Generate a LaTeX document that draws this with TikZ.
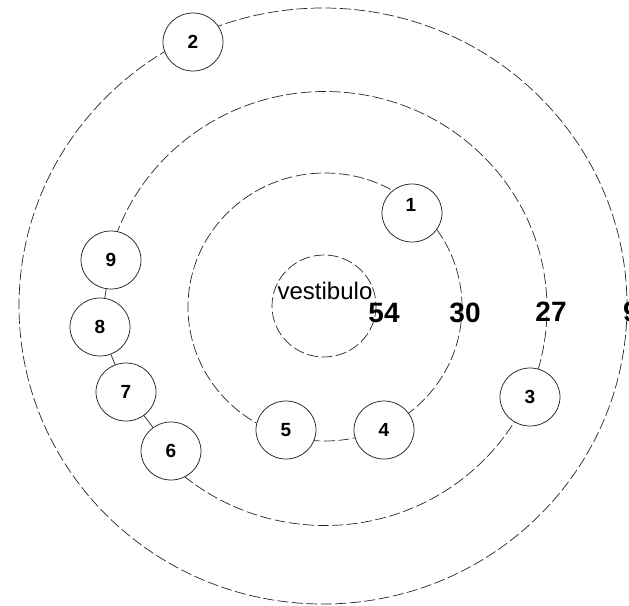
\documentclass[tikz,border=0pt]{standalone}
\usepackage{fontspec}
\setmainfont{Liberation Sans}
\usetikzlibrary{shapes.geometric}
\tikzset{
  ring/.style={draw=black!85, line width=0.7pt, dash pattern=on 11pt off 3.5pt},
  nd/.style={ellipse, draw=black!85, line width=0.75pt, fill=white, inner sep=0pt,
             minimum width=60pt, minimum height=58pt, font=\fontsize{19}{19}\selectfont\bfseries},
  num/.style={inner sep=0pt, font=\fontsize{19}{19}\selectfont\bfseries},
  big/.style={inner sep=0pt, anchor=base, font=\fontsize{28}{28}\selectfont\bfseries},
  link/.style={draw=black!85, line width=0.7pt}
}
\begin{document}
\begin{tikzpicture}[x=1pt,y=-1pt]
\useasboundingbox (0,0) rectangle (629,605);
\clip (0,0) rectangle (629,605);
\fill[white] (0,0) rectangle (629,605);
% ring centres
\coordinate (c0) at (324,306);
\coordinate (c1) at (325,307);
\coordinate (c2) at (325,308.5);
\coordinate (c3) at (323,306);
% rings
\draw[ring] (c0) ellipse [x radius=52, y radius=51];
\draw[ring] (c1) ellipse [x radius=137, y radius=134];
\draw[ring] (c2) ++(137:222 and 217) arc[start angle=137, end angle=-167, x radius=222, y radius=217];
\draw[ring] (c3) ellipse [x radius=304, y radius=298];
% texts
\node[inner sep=0pt, anchor=base, font=\fontsize{24}{24}\selectfont] (vest) at (325,299) {vestibulo};
\node[big] (r54) at (384,322) {54};
\node[big] (r30) at (465,322) {30};
\node[big] (r27) at (551,321) {27};
\node[big, anchor=base west] (r9) at (623,321) {9};
% nodes
\node[nd] (n1) at (412,213) {};
\node[num] (t1) at (411,205) {1};
\node[nd] (n2) at (193,42) {2};
\node[nd] (n3) at (530,397) {3};
\node[nd] (n4) at (384,430) {4};
\node[nd] (n5) at (286,430) {5};
\node[nd] (n6) at (171,451) {6};
\node[nd] (n7) at (126,392) {7};
\node[nd] (n8) at (100,327) {8};
\node[nd] (n9) at (111,260) {9};
% connectors
\draw[link] (n9) -- (n8);
\draw[link] (n8) -- (n7);
\draw[link] (n7) -- (n6);
\end{tikzpicture}
\end{document}
